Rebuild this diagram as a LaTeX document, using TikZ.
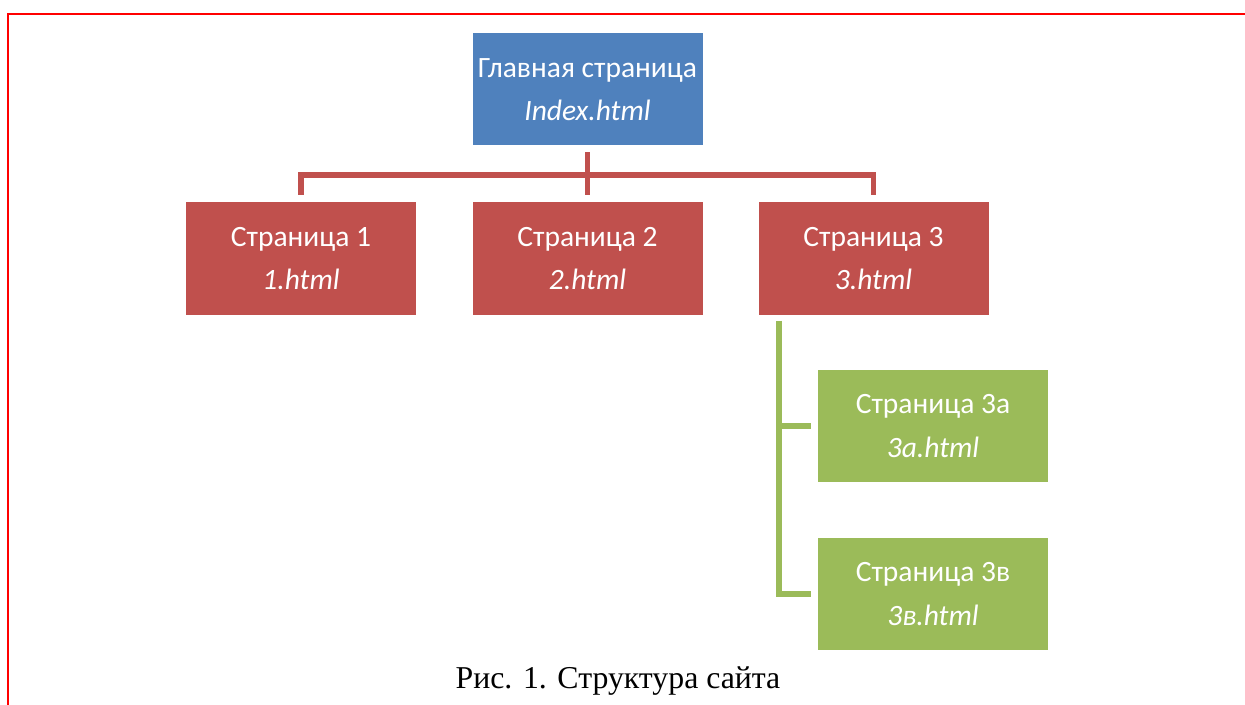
\documentclass[tikz,border=0pt]{standalone}
\usepackage{fontspec}
\setmainfont{Liberation Serif}
\newfontfamily\boxfont{Carlito}
\definecolor{mainfill}{HTML}{4F81BD}
\definecolor{pagefill}{HTML}{C0504D}
\definecolor{subfill}{HTML}{9BBB59}
\definecolor{framered}{HTML}{FF0000}
\tikzset{
  page/.style={rectangle, align=center, text=white, minimum width=115pt,
               minimum height=56pt, inner sep=0pt,
               font=\boxfont\fontsize{14.75}{21.6}\selectfont},
  mainpage/.style={page, fill=mainfill},
  toppage/.style={page, fill=pagefill},
  subpage/.style={page, fill=subfill},
  redlink/.style={draw=pagefill, line width=2.8pt, shorten <=3.2pt, shorten >=3.4pt},
  greenlink/.style={draw=subfill, line width=2.8pt, shorten >=3.2pt},
  caption/.style={font=\fontsize{15.9}{18}\selectfont, text=black}
}
\begin{document}
\begin{tikzpicture}[x=0.5pt, y=-0.5pt]
\useasboundingbox (0,0) rectangle (1245,705);

%% Frame of the page
\draw[framered, line width=1.4pt] (1245,14) -- (8,14) -- (8,705);

%% Pages
\node[mainpage] (index) at (587.5, 89.5) {Главная страница\\\textit{Index.html}};
\node[toppage]  (p1) at (301,   258.5) {Страница 1\\\textit{1.html}};
\node[toppage]  (p2) at (587.5, 258.5) {Страница 2\\\textit{2.html}};
\node[toppage]  (p3) at (873.5, 258.5) {Страница 3\\\textit{3.html}};
\node[subpage]  (p3a) at (933, 426) {Страница 3а\\\textit{3а.html}};
\node[subpage]  (p3b) at (933, 594) {Страница 3в\\\textit{3в.html}};

%% Links: main page to top level
\draw[redlink] (index.south) -- (p2.north);
\draw[redlink] (index.south) -- ++(0,29) -| (p1.north);
\draw[redlink] (index.south) -- ++(0,29) -| (p3.north);

%% Links: page 3 to its subpages
\draw[greenlink] (p3.south west) ++(21,6) |- (p3a.west);
\draw[greenlink] (p3.south west) ++(21,6) |- (p3b.west);

%% Caption
\node[caption, anchor=base] (cap) at (618, 688) {Рис. 1. Структура сайта};

\end{tikzpicture}
\end{document}
